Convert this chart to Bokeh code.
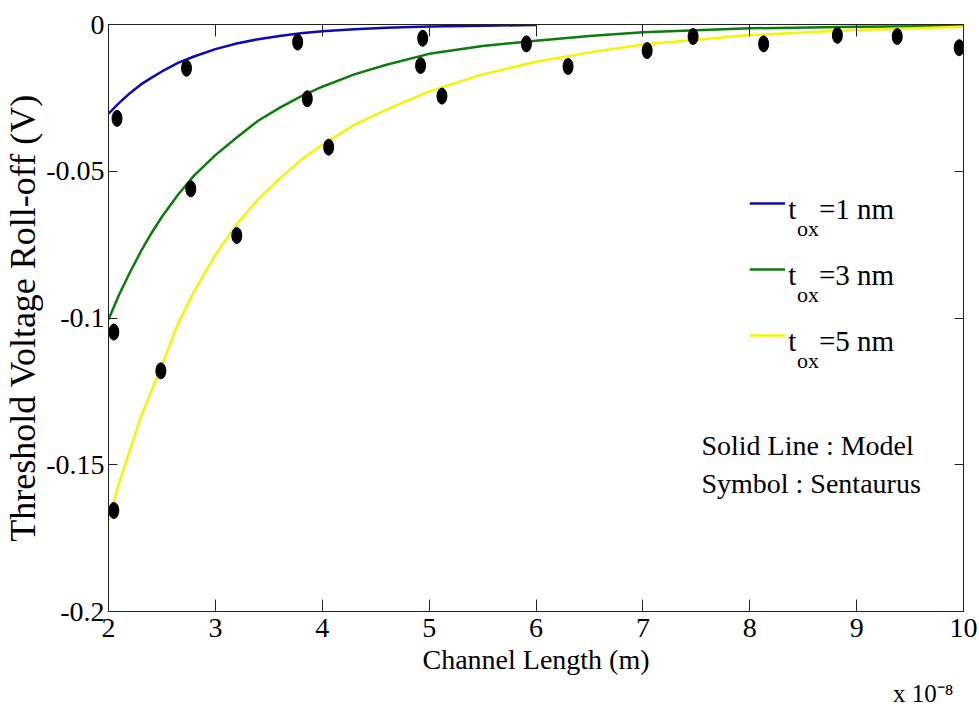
from bokeh.plotting import figure
from bokeh.models import Range1d, LinearAxis, FixedTicker, Label, ColumnDataSource, Title
from bokeh.embed import file_html
from bokeh.resources import INLINE

# ---------------- data ----------------
x_ticks = [2, 3, 4, 5, 6, 7, 8, 9, 10]
x_tick_labels = ["2", "3", "4", "5", "6", "7", "8", "9", "10"]
y_ticks = [-0.2, -0.15, -0.1, -0.05, 0.0]
y_tick_labels = ["-0.2", "-0.15", "-0.1", "-0.05", "0"]

# model curves (solid lines), channel length in units of 1e-8 m
model_x = [2.0, 2.1, 2.2, 2.3, 2.4, 2.5, 2.65, 2.8, 3.0, 3.2, 3.4, 3.6, 3.8,
           4.0, 4.3, 4.6, 5.0, 5.5, 6.0, 6.5, 7.0, 8.0, 9.0, 10.0]
model_tox1_x = [2.0, 2.1, 2.2, 2.3, 2.4, 2.5, 2.65, 2.8, 3.0, 3.2, 3.4, 3.6,
                3.8, 4.0, 4.3, 4.6, 5.0, 5.5, 6.0]
model_tox1 = [-0.0304, -0.0267, -0.0234, -0.0205, -0.0182, -0.0160, -0.0131,
              -0.0109, -0.0084, -0.0065, -0.0050, -0.0039, -0.0030, -0.0023,
              -0.0016, -0.0011, -0.0007, -0.0004, -0.0002]
model_tox3 = [-0.1005, -0.0920, -0.0845, -0.0775, -0.0712, -0.0655, -0.0580,
              -0.0515, -0.0445, -0.0385, -0.0328, -0.0284, -0.0245, -0.0212,
              -0.0170, -0.0137, -0.0100, -0.0073, -0.0055, -0.0039, -0.0026,
              -0.0013, -0.0008, -0.0005]
model_tox5 = [-0.1690, -0.1560, -0.1450, -0.1340, -0.1250, -0.1160, -0.1020,
              -0.0910, -0.0785, -0.0680, -0.0595, -0.0525, -0.0462, -0.0410,
              -0.0342, -0.0290, -0.0228, -0.0170, -0.0127, -0.0095, -0.0068,
              -0.0036, -0.0019, -0.0008]

# Sentaurus simulation (symbols)
sim_tox1_x = [2.08, 2.73, 3.77, 4.94]
sim_tox1_y = [-0.0320, -0.0149, -0.0060, -0.0047]
sim_tox3_x = [2.05, 2.77, 3.86, 4.92, 5.91, 7.47, 8.82, 9.96]
sim_tox3_y = [-0.1048, -0.0560, -0.0253, -0.0140, -0.0066, -0.0041, -0.0037, -0.0079]
sim_tox5_x = [2.05, 2.49, 3.20, 4.06, 5.12, 6.30, 7.04, 8.13, 9.38]
sim_tox5_y = [-0.1656, -0.1180, -0.0719, -0.0418, -0.0244, -0.0143, -0.0089, -0.0066, -0.0041]

series_names = ["=1 nm", "=3 nm", "=5 nm"]
series_colors = ["#0a0ab8", "#0a7d0a", "#f5f500"]

FONT = "'Liberation Serif', 'Times New Roman', serif"
AXC = "#222222"

# ---------------- figure ----------------
p = figure(width=979, height=713, x_range=Range1d(2, 10), y_range=Range1d(-0.2, 0),
           output_backend="svg", toolbar_location=None,
           x_axis_label="Channel Length (m)",
           y_axis_label="Threshold Voltage Roll-off (V)",
           min_border_left=105, min_border_right=16, min_border_top=24,
           min_border_bottom=102)
p.background_fill_color = "white"
p.border_fill_color = "white"
p.outline_line_color = AXC
p.xgrid.visible = False
p.ygrid.visible = False

xa = p.xaxis[0]
ya = p.yaxis[0]
xa.ticker = FixedTicker(ticks=x_ticks)
ya.ticker = FixedTicker(ticks=y_ticks)
xa.major_label_overrides = {t: s for t, s in zip(x_ticks, x_tick_labels)}
ya.major_label_overrides = {t: s for t, s in zip(y_ticks, y_tick_labels)}
for ax, tin in ((xa, 12), (ya, 9)):
    ax.axis_line_color = AXC
    ax.major_tick_line_color = AXC
    ax.major_tick_in = tin
    ax.major_tick_out = 0
    ax.minor_tick_line_color = None
    ax.major_label_text_font = FONT
    ax.major_label_text_font_size = "28px"
    ax.major_label_text_color = "black"
    ax.axis_label_text_font = FONT
    ax.axis_label_text_font_style = "normal"
    ax.axis_label_text_color = "black"
xa.major_label_standoff = 7
xa.axis_label_text_font_size = "28px"
xa.axis_label_standoff = 4
ya.major_label_standoff = 4
ya.axis_label_text_font_size = "36px"
ya.axis_label_standoff = 0

# box ticks on top and right (MATLAB style)
top = LinearAxis(ticker=FixedTicker(ticks=x_ticks), major_tick_in=12, major_tick_out=0,
                 minor_tick_line_color=None, major_label_text_font_size="0px",
                 axis_line_color=AXC, major_tick_line_color=AXC,
                 major_label_overrides={t: "" for t in x_ticks})
right = LinearAxis(ticker=FixedTicker(ticks=y_ticks), major_tick_in=9, major_tick_out=0,
                   minor_tick_line_color=None, major_label_text_font_size="0px",
                   axis_line_color=AXC, major_tick_line_color=AXC,
                   major_label_overrides={t: "" for t in y_ticks})
p.add_layout(top, "above")
p.add_layout(right, "right")

# axis multiplier, below the x axis at the right
mult = Title(text="x 10\u207b\u2078", align="right", text_font=FONT, text_font_size="25px",
             text_font_style="normal", text_color="black", standoff=0, offset=10)
p.add_layout(mult, "below")

# model lines
curves = [(model_tox1_x, model_tox1), (model_x, model_tox3), (model_x, model_tox5)]
for (cx, cy), col in zip(curves, series_colors):
    p.line(cx, cy, line_color=col, line_width=2.5)

# simulation symbols
sims = [(sim_tox1_x, sim_tox1_y), (sim_tox3_x, sim_tox3_y), (sim_tox5_x, sim_tox5_y)]
for sx, sy in sims:
    src = ColumnDataSource(dict(x=sx, y=sy))
    p.ellipse(x="x", y="y", width=10, height=16, width_units="screen",
              height_units="screen", fill_color="black", line_color="black", source=src)

# legend (manual, to allow the subscript)
leg_line_y = [-0.0610, -0.0835, -0.1060]
leg_text_y = [-0.0627, -0.0852, -0.1077]
leg_sub_y = [-0.0695, -0.0920, -0.1145]
for name, col, ly, ty, sy in zip(series_names, series_colors, leg_line_y, leg_text_y, leg_sub_y):
    p.line([8.0, 8.33], [ly, ly], line_color=col, line_width=2.5)
    p.add_layout(Label(x=8.36, y=ty, text="t", text_font=FONT, text_font_size="29px",
                       text_baseline="alphabetic", text_align="left", text_color="black"))
    p.add_layout(Label(x=8.443, y=sy, text="ox", text_font=FONT, text_font_size="22px",
                       text_baseline="alphabetic", text_align="left", text_color="black"))
    p.add_layout(Label(x=8.648, y=ty, text=name, text_font=FONT, text_font_size="29px",
                       text_baseline="alphabetic", text_align="left", text_color="black"))

notes = ["Solid Line : Model", "Symbol : Sentaurus"]
note_y = [-0.1434, -0.1564]
for t, y in zip(notes, note_y):
    p.add_layout(Label(x=7.548, y=y, text=t, text_font=FONT, text_font_size="28px",
                       text_baseline="alphabetic", text_align="left", text_color="black"))

open("out.html", "w").write(file_html(p, INLINE))
